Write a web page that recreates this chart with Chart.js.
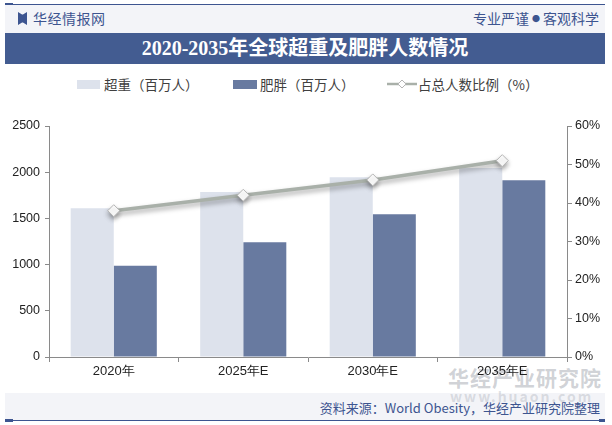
<!DOCTYPE html>
<html>
<head>
<meta charset="utf-8">
<script src="https://cdn.jsdelivr.net/npm/chart.js@4.4.0/dist/chart.umd.min.js"></script>
<style>
  html, body { margin: 0; padding: 0; }
  body { width: 612px; height: 425px; position: relative; overflow: hidden; background: #fff;
         font-family: "Noto Sans CJK SC", "Noto Sans", sans-serif; }
  .topline { position: absolute; left: 5px; top: 4px; width: 600px; height: 1px; background: #3d5590; }
  .topline::before { content: ""; position: absolute; left: 0; top: -1px; width: 8px; height: 3px; background: #3d5590; }
  .head { position: absolute; left: 5px; top: 5px; width: 600px; height: 28px; background: #f3f4f8; }
  .brand { position: absolute; left: 33px; top: 8px; font-size: 14px; color: #3d5590; letter-spacing: 0.5px; }
  .logo { position: absolute; left: 18px; top: 12px; width: 9px; height: 13px; background: #3d5590;
          clip-path: polygon(0 0, 45% 20%, 55% 20%, 100% 0, 100% 100%, 55% 80%, 45% 80%, 0 100%); }
  .motto { position: absolute; right: 13px; top: 8px; font-size: 14px; color: #3d5590; }
  .motto b { font-size: 8px; vertical-align: 2px; margin: 0 3px; }
  .title { position: absolute; left: 5px; top: 33px; width: 600px; height: 31px; background: #435c91;
           color: #fff; font-size: 20px; font-weight: bold; text-align: center; line-height: 31px;
           font-family: "Liberation Serif", "Noto Sans CJK SC", serif; }
  .legend { position: absolute; top: 74px; left: 0; width: 612px; height: 20px; font-size: 13.5px; color: #404040; }
  .legend span { position: absolute; top: 0; line-height: 20px; white-space: nowrap; }
  .sw { position: absolute; height: 9px; top: 6px; }
  .foot { position: absolute; left: 5px; top: 393px; width: 600px; height: 27px; background: #f3f4f8; }
  .src { position: absolute; right: 12px; top: 398px; font-size: 13px; color: #3d5590; }
  .botline { position: absolute; left: 5px; top: 420px; width: 600px; height: 1px; background: #3d5590; }
  .botline::before { content: ""; position: absolute; left: 0; top: -1px; width: 8px; height: 3px; background: #3d5590; }
  .botline::after { content: ""; position: absolute; right: 0; top: -1px; width: 6px; height: 3px; background: #3d5590; }
  .wm { position: absolute; left: 448px; top: 362px; font-size: 21px; font-weight: bold; color: rgba(150,155,165,0.45); letter-spacing: 1px; }
  .wm2 { position: absolute; left: 450px; top: 386px; font-size: 14px; font-weight: bold; color: rgba(150,155,165,0.3); letter-spacing: 2px; }
  canvas { position: absolute; left: 0; top: 0; }
</style>
</head>
<body>
<div class="topline"></div>
<div class="head"></div>
<div class="logo"></div>
<div class="brand">华经情报网</div>
<div class="motto">专业严谨<b>●</b>客观科学</div>
<div class="title">2020-2035年全球超重及肥胖人数情况</div>

<div class="foot"></div>
<div class="wm">华经产业研究院</div>
<div class="wm2">www.huaon.com</div>
<div class="src">资料来源：World Obesity，华经产业研究院整理</div>
<div class="botline"></div>

<div class="legend">
  <div class="sw" style="left:77px;width:23px;background:#dde2ec"></div>
  <span style="left:104px">超重（百万人）</span>
  <div class="sw" style="left:233px;width:24px;background:#687aa0"></div>
  <span style="left:260px">肥胖（百万人）</span>
  <svg style="position:absolute;left:387px;top:4px" width="30" height="12">
    <line x1="0" y1="6" x2="30" y2="6" stroke="#a9b0a9" stroke-width="2.5"/>
    <polygon points="15,2 19,6 15,10 11,6" fill="#fff" stroke="#b5b5b5" stroke-width="1"/>
  </svg>
  <span style="left:418px">占总人数比例（%）</span>
</div>

<canvas id="c" width="612" height="425"></canvas>

<script>
const YEARS = ["2020年", "2025年E", "2030年E", "2035年E"];
const OVERWEIGHT = [1610, 1785, 1945, 2045];   // 超重（百万人）
const OBESE = [988, 1243, 1546, 1914];         // 肥胖（百万人）
const SHARE = [38, 42, 46, 51];                // 占总人数比例（%）
const LEFT_TICKS = [0, 500, 1000, 1500, 2000, 2500];
const RIGHT_TICKS = [0, 10, 20, 30, 40, 50, 60];

const AXIS = "#8a8a8a";
const TICK_FONT = { family: "Liberation Sans, Arial, sans-serif", size: 12.5 };

// soft shadow under the share line, like the original
const lineShadow = {
  id: "lineShadow",
  beforeDatasetDraw(chart, args) {
    if (args.index !== 2) return;
    const ctx = chart.ctx;
    ctx.save();
    ctx.shadowColor = "rgba(0,0,0,0.35)";
    ctx.shadowBlur = 5;
    ctx.shadowOffsetY = 3;
  },
  afterDatasetDraw(chart, args) {
    if (args.index !== 2) return;
    chart.ctx.restore();
  },
};

new Chart(document.getElementById("c"), {
  data: {
    labels: YEARS,
    datasets: [
      { type: "bar", label: "超重（百万人）", data: OVERWEIGHT, backgroundColor: "#dde2ec",
        yAxisID: "y", categoryPercentage: 0.665, barPercentage: 1, order: 2 },
      { type: "bar", label: "肥胖（百万人）", data: OBESE, backgroundColor: "#687aa0",
        yAxisID: "y", categoryPercentage: 0.665, barPercentage: 1, order: 2 },
      { type: "line", label: "占总人数比例（%）", data: SHARE, yAxisID: "y1", order: 1,
        borderColor: "#a9b0a9", borderWidth: 3.5, tension: 0,
        pointStyle: "rectRot", pointRadius: 6, pointBackgroundColor: "#fff",
        pointBorderColor: "#b5b5b5", pointBorderWidth: 1 },
    ],
  },
  options: {
    responsive: false,
    animation: false,
    layout: { padding: { top: 126, left: 0, right: 0, bottom: 0 } },
    plugins: { legend: { display: false }, tooltip: { enabled: false } },
    scales: {
      x: {
        offset: true,
        grid: { display: true, offset: true, drawOnChartArea: false, drawTicks: true, tickLength: 5, color: AXIS },
        border: { display: true, color: AXIS },
        ticks: { color: "#222", font: { ...TICK_FONT, size: 13 }, padding: 2 },
        afterFit: (s) => { s.height = 68; },
      },
      y: {
        position: "left", min: 0, max: 2500,
        afterBuildTicks: (s) => { s.ticks = LEFT_TICKS.map((v) => ({ value: v })); },
        grid: { display: true, drawOnChartArea: false, drawTicks: true, tickLength: 4, color: AXIS },
        border: { display: true, color: AXIS },
        ticks: { color: "#222", font: TICK_FONT, padding: 5, callback: (v) => String(v) },
        afterFit: (s) => { s.width = 49; },
      },
      y1: {
        position: "right", min: 0, max: 60,
        afterBuildTicks: (s) => { s.ticks = RIGHT_TICKS.map((v) => ({ value: v })); },
        grid: { display: true, drawOnChartArea: false, drawTicks: true, tickLength: 5, color: AXIS },
        border: { display: true, color: AXIS },
        ticks: { color: "#222", font: TICK_FONT, padding: 3, callback: (v) => v + "%" },
        afterFit: (s) => { s.width = 45; },
      },
    },
  },
  plugins: [lineShadow],
});
</script>
</body>
</html>
